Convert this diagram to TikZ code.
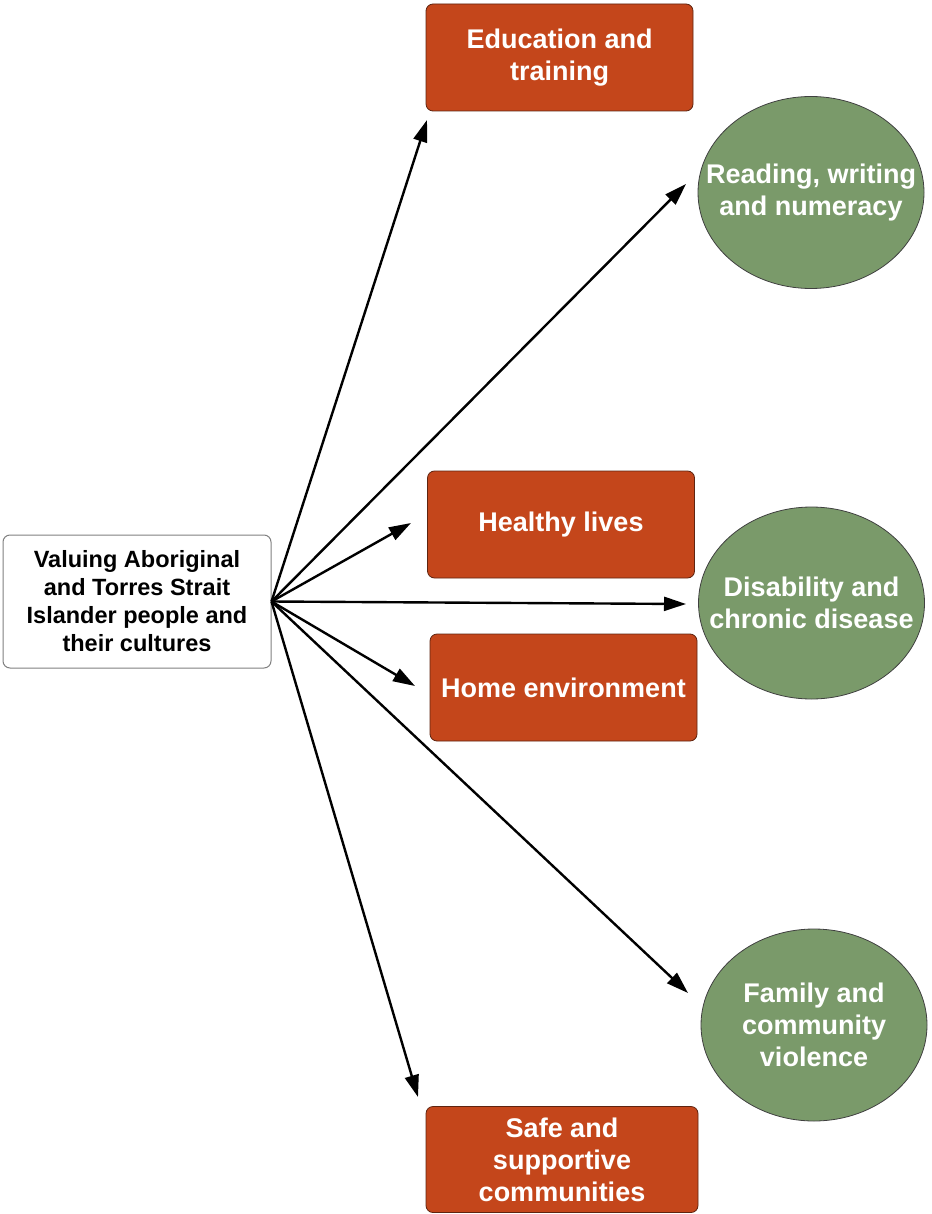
\documentclass[tikz,border=0pt]{standalone}
\usepackage{fontspec}
\setmainfont{Liberation Sans}
\usetikzlibrary{arrows.meta,shapes.geometric}

\definecolor{rust}{HTML}{C4461B}
\definecolor{rustline}{HTML}{5E2410}
\definecolor{sage}{HTML}{7A9A6A}

\tikzset{
  hubbox/.style={draw=gray,line width=1pt,fill=white,rounded corners=7pt,
    minimum width=268pt,minimum height=133pt,inner sep=2pt,align=center,
    font=\fontsize{23.5}{28}\selectfont\bfseries},
  goalbox/.style={draw=rustline,line width=0.8pt,fill=rust,rounded corners=7pt,
    minimum width=267pt,minimum height=107pt,inner sep=2pt,align=center,
    text=white,font=\fontsize{27}{32}\selectfont\bfseries},
  blob/.style={ellipse,draw=black!75,line width=0.8pt,fill=sage,
    minimum width=226pt,minimum height=192pt,inner sep=0pt},
  bloblabel/.style={inner sep=0pt,align=center,text=white,
    font=\fontsize{27}{32}\selectfont\bfseries},
  link/.style={draw,line width=2.4pt,-{Triangle[length=22pt,width=14pt]}}
}

\begin{document}
\begin{tikzpicture}[x=1pt,y=-1pt]

  \useasboundingbox (0,0) rectangle (931,1214);

  \node[hubbox] (hub) at (137,601.5)
    {Valuing Aboriginal\\and Torres Strait\\Islander people and\\their cultures};

  \begin{scope}[every node/.style={goalbox}]
    \node (edu)  at (559.5,57.5)  {Education and\\training};
    \node (heal) at (561,524.5)   {Healthy lives};
    \node (home) at (563.5,687.5) {Home environment};
    \node[minimum width=272pt,minimum height=106pt] (safe) at (562,1159.5)
      {Safe and\\supportive\\communities};
  \end{scope}

  \begin{scope}[every node/.style={blob}]
    \node (read) at (811,192.5) {};
    \node (dis)  at (811.5,603) {};
    \node (fam)  at (814,1025)  {};
  \end{scope}

  \begin{scope}[every node/.style={bloblabel}]
    \node (readtext) at (read) {Reading, writing\\and numeracy};
    \node (distext)  at (dis)  {Disability and\\chronic disease};
    \node (famtext)  at (fam)  {Family and\\community\\violence};
  \end{scope}

  % arrow tips stop short of the targets
  \coordinate (toedu)  at (427,120);
  \coordinate (toread) at (686,184);
  \coordinate (toheal) at (411,523);
  \coordinate (todis)  at (686,604);
  \coordinate (tohome) at (415,686);
  \coordinate (tofam)  at (688,993);
  \coordinate (tosafe) at (418,1097);

  \begin{scope}[every edge/.style={link}]
    \path (hub.east) edge (toedu);
    \path (hub.east) edge (toread);
    \path (hub.east) edge (toheal);
    \path (hub.east) edge (todis);
    \path (hub.east) edge (tohome);
    \path (hub.east) edge (tofam);
    \path (hub.east) edge (tosafe);
  \end{scope}

\end{tikzpicture}
\end{document}
